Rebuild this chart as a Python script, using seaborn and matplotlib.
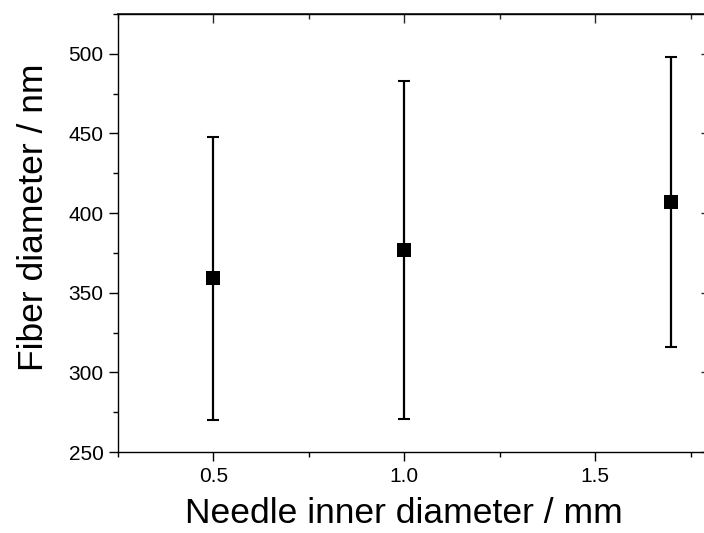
import matplotlib
matplotlib.use("Agg")
import matplotlib.pyplot as plt
import seaborn as sns
import pandas as pd
from matplotlib.ticker import MultipleLocator, FixedLocator

# data
needle_id = [0.5, 1.0, 1.7]
fiber_d = [359, 377, 407]
fiber_err = [89, 106, 91]
x_ticks = [0.5, 1.0, 1.5]
x_tick_labels = ["0.5", "1.0", "1.5"]
y_ticks = [250, 300, 350, 400, 450, 500]
y_tick_labels = ["250", "300", "350", "400", "450", "500"]

sns.set_theme(style="ticks")
plt.rcParams['font.family'] = ['Liberation Sans', 'DejaVu Sans']
plt.rcParams['text.color'] = 'black'
plt.rcParams['axes.labelcolor'] = 'black'

df = pd.DataFrame({"x": needle_id, "y": fiber_d, "e": fiber_err})

fig = plt.figure(figsize=(7.04, 5.33), dpi=100)
ax = fig.add_axes([118/704, 81/533, (709.6-118)/704, 438/533])

ax.errorbar(df["x"], df["y"], yerr=df["e"], fmt="none", ecolor="black",
            elinewidth=1.6, capsize=4, capthick=1.5, zorder=2)
sns.scatterplot(data=df, x="x", y="y", marker="s", s=95, color="black",
                edgecolor="black", linewidth=0, ax=ax, zorder=3, legend=False)

ax.set_xlim(0.25, 1.8)
ax.set_ylim(250, 525)
ax.xaxis.set_major_locator(FixedLocator(x_ticks))
ax.set_xticklabels(x_tick_labels)
ax.xaxis.set_minor_locator(MultipleLocator(0.25))
ax.yaxis.set_major_locator(FixedLocator(y_ticks))
ax.set_yticklabels(y_tick_labels)
ax.yaxis.set_minor_locator(MultipleLocator(25))

for s in ax.spines.values():
    s.set_visible(True)
    s.set_linewidth(1.0)
    s.set_color("black")

ax.tick_params(axis="both", which="major", direction="out", length=6.5,
               width=1.0, color="black", labelsize=15, labelcolor="black")
ax.tick_params(axis="both", which="minor", direction="out", length=3.5,
               width=1.0, color="black")
ax.tick_params(axis="x", which="major", pad=4.5)
ax.tick_params(axis="y", which="major", pad=4)

# top and right ticks, inward, no labels
ax_top = ax.secondary_xaxis("top")
ax_top.xaxis.set_major_locator(FixedLocator(x_ticks))
ax_top.xaxis.set_minor_locator(MultipleLocator(0.25))
ax_top.tick_params(which="major", direction="in", length=6.5, width=1.0, labeltop=False)
ax_top.tick_params(which="minor", direction="in", length=3.5, width=1.0)
ax_right = ax.secondary_yaxis("right")
ax_right.yaxis.set_major_locator(FixedLocator(y_ticks))
ax_right.yaxis.set_minor_locator(MultipleLocator(25))
ax_right.tick_params(which="major", direction="in", length=6.5, width=1.0, labelright=False)
ax_right.tick_params(which="minor", direction="in", length=3.5, width=1.0)

ax.set_xlabel("Needle inner diameter / mm", fontsize=25.5, labelpad=8, x=0.4826)
ax.set_ylabel("Fiber diameter / nm", fontsize=25.5, labelpad=13, y=0.5365)
ax.grid(False)

fig.savefig("out.png", dpi=100)
